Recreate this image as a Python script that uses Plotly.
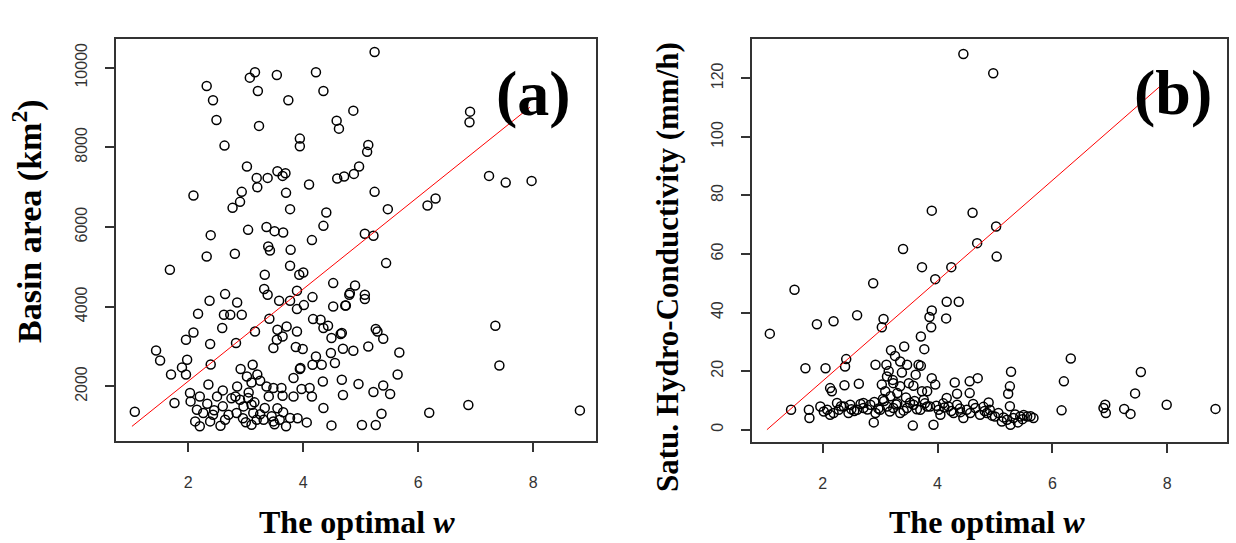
import plotly.graph_objects as go

W, H = 1236, 543

# ---------------- data ----------------
# Panel (a): optimal w vs basin area (km2)
wa = [2.32, 2.43, 2.49, 2.63, 2.09, 2.39, 3.02, 3.07, 3.16, 3.21, 3.23, 3.54, 3.74, 4.22, 4.35,
      3.94, 3.94, 4.58, 4.62, 3.19, 3.20, 3.38, 3.55, 3.64, 3.69, 4.10, 4.59, 4.71, 2.93, 2.90,
      2.77, 3.70, 3.77, 4.40, 4.35, 3.04, 3.36, 3.50, 3.65, 4.15,
      5.24, 4.87, 6.90, 6.89, 5.13, 5.11, 4.97, 4.88, 5.24, 5.47, 6.16, 6.30, 7.23, 7.52, 7.97,
      5.07, 5.22,
      5.44, 4.90, 4.81, 4.74, 5.07, 5.07, 4.67, 5.26, 5.29, 5.39, 4.69, 4.87, 5.13, 5.67, 5.64,
      4.67, 4.96, 5.39, 5.22, 5.51, 4.69, 5.36, 5.02, 5.26, 6.19, 6.87, 7.34, 7.41, 8.81,
      1.07, 1.44, 1.51, 1.68, 1.70, 1.76, 1.89, 1.96, 1.98, 1.96, 2.09, 2.17, 2.32, 2.38, 2.37,
      2.39, 2.81, 2.64, 2.62, 2.73, 2.85, 2.93, 2.59, 2.83, 3.16, 3.33, 3.39, 3.42, 3.78,
      3.77, 3.93, 4.00, 3.32, 3.38, 3.58, 3.77, 3.89, 3.89, 4.01, 4.16, 3.41, 3.55, 3.71, 3.64,
      3.54, 3.48, 3.89, 3.87, 3.99, 3.95,
      4.17, 4.30, 4.35, 4.43, 4.49, 4.65, 4.52, 4.73, 4.80, 4.52,
      4.48, 4.22, 4.32, 4.16, 4.55, 4.34, 4.15, 4.35, 4.49, 4.06,
      3.12, 2.91, 3.02, 3.10, 2.85, 3.25, 3.36, 3.48, 3.62, 3.83, 3.94, 3.64, 3.83, 3.97, 4.11,
      2.03, 2.20, 2.04, 2.33, 2.15, 2.26, 2.12, 2.38, 2.56, 2.70, 2.84, 2.90, 3.04, 3.10, 2.96,
      3.13, 3.19, 3.31, 3.33, 3.48, 3.59, 3.77, 3.10, 2.82, 2.43, 2.64,
      2.20, 2.45, 2.60, 2.75, 2.95, 3.05, 3.15, 3.25, 3.40, 3.55, 3.70, 3.50, 3.65, 3.90, 3.20,
      2.60, 2.35, 2.50, 3.00, 3.45]
area = [9541, 9183, 8689, 8044, 6790, 5797, 7518, 9750, 9885, 9416, 8539, 9818, 9183, 9885, 9416,
        8220, 8029, 8671, 8470, 7234, 7001, 7234, 7402, 7284, 7352, 7066, 7217, 7267, 6883, 6632,
        6482, 6858, 6449, 6364, 6030, 5930, 6000, 5897, 5862, 5672,
        10394, 8922, 8897, 8631, 8062, 7887, 7518, 7334, 6883, 6449, 6540, 6716, 7284, 7116, 7159,
        5830, 5780,
        5095, 4533, 4342, 4031, 4300, 4192, 3339, 3440, 3379, 3196, 2946, 2895, 3003, 2853, 2301,
        2168, 2060, 2025, 1860, 1810, 1784, 1315, 1032, 1032, 1340, 1533, 3522, 2527, 1398,
        1365, 2903, 2652, 4927, 2301, 1584, 2477, 2301, 2670, 3171, 3354, 3823, 5261, 3063, 4149,
        2552, 5329, 4317, 3798, 3798, 4107, 3798, 3465, 3088, 3379, 4801, 5511, 5411, 5428,
        5027, 4801, 4859, 4443, 4300, 4149, 4149, 4400, 3941, 4041, 4242, 3698, 3422, 3505, 3254,
        3171, 2963, 3379, 2988, 2938, 2461,
        3690, 3673, 3465, 3522, 3214, 3314, 4006, 4031, 4300, 4593,
        2838, 2752, 2544, 2544, 2587, 2125, 1749, 1458, 1022, 1097,
        2544, 2436, 2251, 2100, 2000, 2143, 2000, 1960, 1960, 2211, 2436, 1767, 1749, 1935, 1960,
        1834, 1749, 1624, 1566, 1416, 1332, 1122, 1122, 1014, 1290, 1332, 1666, 1708, 1541, 1499,
        1332, 1165, 1165, 1458, 1122, 1165, 1207, 1040, 1749, 1290, 1165,
        1000, 1400, 1500, 1700, 1200, 1850, 1600, 1300, 1750, 1450, 1000, 1050, 1350, 1200, 2300,
        1900, 2050, 1750, 1100, 1250]

# Panel (b): optimal w vs saturated hydraulic conductivity (mm/h)
wb = [4.45, 4.97, 3.90, 4.61, 5.02, 4.69,
      5.03, 4.24, 3.96, 3.73, 4.16, 4.37, 4.15, 3.90, 3.86, 3.89, 3.77, 3.71, 3.71, 6.32, 5.28,
      6.20, 7.54, 7.44, 7.99, 8.84, 6.16, 6.92, 6.89, 6.93, 7.25, 7.36, 5.26, 5.23, 5.26,
      4.70, 4.56, 4.30, 3.96, 3.90, 3.82, 4.34, 4.56, 4.89, 4.16,
      3.76, 3.87, 4.02, 4.19, 4.34, 4.51, 4.66, 4.86, 5.06, 5.21, 5.32, 5.44, 5.56, 5.67, 3.93,
      4.05, 4.45, 4.74, 4.91, 5.12, 5.27, 4.28, 4.57,
      1.08, 1.51, 1.45, 1.70, 1.76, 1.77, 1.90, 2.05, 2.19, 2.13, 2.16, 2.41, 2.39, 2.38, 2.60,
      2.63, 2.88, 3.06, 3.03, 2.92, 3.11, 3.40, 3.42, 3.19, 3.26, 3.35, 3.47, 3.67,
      3.12, 3.03, 3.23, 3.35, 3.50, 3.58, 3.73, 3.09, 3.18, 3.30, 3.57, 2.89,
      1.96, 2.08, 2.19, 2.28, 2.37, 2.45, 2.60, 2.71, 2.83, 2.92, 3.00, 3.12, 3.23, 3.35, 3.47,
      3.58, 3.70, 3.82, 2.25, 2.13, 2.48, 2.71,
      2.50, 2.90, 3.30, 3.60, 4.10, 4.40, 4.80, 5.00, 5.40, 5.50,
      2.02, 2.32, 2.55, 2.66, 2.78, 2.97, 3.07, 3.17, 3.28, 3.41, 3.52, 3.64, 3.78, 3.98, 4.12,
      4.24, 4.39, 4.62, 4.82, 4.95, 5.15, 5.35, 5.48, 5.62, 3.15, 3.22, 3.38, 3.45, 3.62, 3.05]
ksat = [128.3, 121.7, 74.8, 74.1, 69.4, 63.7,
        59.1, 55.5, 51.4, 55.5, 43.7, 43.7, 38.0, 40.7, 38.5, 35.0, 27.5, 31.8, 21.8, 24.3, 19.8,
        16.5, 19.7, 12.4, 8.5, 7.1, 6.6, 8.5, 7.4, 5.7, 7.1, 5.4, 14.8, 12.3, 8.0,
        17.6, 16.5, 16.1, 15.4, 17.6, 13.1, 12.3, 12.5, 9.3, 10.8,
        10.2, 7.9, 6.8, 7.9, 8.5, 6.8, 7.4, 5.7, 5.7, 3.4, 4.0, 4.5, 4.5, 4.0, 1.7,
        5.1, 4.0, 5.1, 6.8, 2.8, 1.7, 5.7, 5.7,
        32.8, 47.8, 6.8, 21.0, 6.8, 4.0, 36.0, 21.0, 37.0, 14.2, 13.1, 24.1, 21.6, 15.2, 39.1,
        15.7, 50.0, 37.8, 35.0, 22.2, 22.2, 61.7, 28.4, 27.1, 25.2, 23.3, 22.2, 22.2,
        18.2, 15.4, 15.9, 14.8, 15.9, 15.0, 13.1, 13.1, 11.4, 12.5, 1.4, 2.5,
        7.9, 6.8, 5.7, 6.8, 7.9, 5.7, 6.8, 7.4, 8.5, 5.7, 6.8, 7.9, 7.4, 5.7, 7.4,
        8.5, 6.8, 7.9, 9.1, 5.1, 8.5, 9.1,
        7.0, 9.5, 9.0, 9.8, 9.0, 6.0, 7.8, 4.5, 2.5, 5.0,
        6.2, 8.0, 6.4, 8.8, 6.9, 7.2, 9.8, 6.2, 8.6, 6.5, 9.2, 7.0, 9.0, 8.2, 7.6,
        6.4, 7.2, 8.8, 6.4, 4.8, 4.2, 5.2, 3.6, 4.6, 20.0, 17.0, 19.5, 11.0, 18.8, 10.5]

# fitted (red) lines
fit_a_w = [1.02, 7.94]
fit_a_y = [997, 9007]
fit_b_w = [1.03, 7.86]
fit_b_y = [0, 117]

x_ticks = [2, 4, 6, 8]
area_ticks = [2000, 4000, 6000, 8000, 10000]
ksat_ticks = [0, 20, 40, 60, 80, 100, 120]

# ---------------- figure ----------------
marker_style = dict(symbol="circle-open", size=9, color="black", line=dict(width=1.5, color="black"))

fig = go.Figure()
fig.add_trace(go.Scatter(x=wa, y=area, mode="markers", marker=marker_style,
                         xaxis="x", yaxis="y", showlegend=False))
fig.add_trace(go.Scatter(x=fit_a_w, y=fit_a_y, mode="lines", line=dict(color="red", width=1),
                         xaxis="x", yaxis="y", showlegend=False))
fig.add_trace(go.Scatter(x=wb, y=ksat, mode="markers", marker=marker_style,
                         xaxis="x2", yaxis="y2", showlegend=False))
fig.add_trace(go.Scatter(x=fit_b_w, y=fit_b_y, mode="lines", line=dict(color="red", width=1),
                         xaxis="x2", yaxis="y2", showlegend=False))

tickfont = dict(family="Liberation Sans, Arial", size=16, color="#333")
common = dict(showline=True, linecolor="#333", linewidth=1.5, mirror=True,
              ticks="outside", ticklen=9, tickwidth=1.5, tickcolor="#333",
              showgrid=False, zeroline=False, tickfont=tickfont)

def dx(a, b):
    return [a / W, b / W]

def dy(top, bottom):
    return [1 - bottom / H, 1 - top / H]

fig.update_layout(
    width=W, height=H,
    margin=dict(l=0, r=0, t=0, b=0),
    paper_bgcolor="white", plot_bgcolor="white",
    xaxis=dict(domain=dx(116, 596), range=[0.743, 9.09], tickvals=x_ticks,
               anchor="y", ticklabelstandoff=17, **common),
    yaxis=dict(domain=dy(39, 441), range=[630, 10720], tickvals=area_ticks,
               ticktext=[str(v) for v in area_ticks],
               tickangle=-90, anchor="x", ticklabelstandoff=12, **common),
    xaxis2=dict(domain=dx(752, 1227), range=[0.77, 9.04], tickvals=x_ticks,
                anchor="y2", ticklabelstandoff=17, **common),
    yaxis2=dict(domain=dy(39, 442), range=[-4.2, 133.4], tickvals=ksat_ticks,
                ticktext=[str(v) for v in ksat_ticks],
                tickangle=-90, anchor="x2", ticklabelstandoff=12, **common),
)

def tfont(size):
    return dict(family="Liberation Serif, Times New Roman", size=size, color="black")

ann = [
    dict(text="<b>Basin area (km<sup>2</sup>)</b>", x=28 / W, y=1 - 221 / H, textangle=-90, font=tfont(34)),
    dict(text="<b>The optimal <i>w</i></b>", x=357 / W, y=1 - 522 / H, textangle=0, font=tfont(32)),
    dict(text="<b>Satu. Hydro-Conductivity (mm/h)</b>", x=667 / W, y=1 - 267 / H, textangle=-90, font=tfont(31)),
    dict(text="<b>The optimal <i>w</i></b>", x=987 / W, y=1 - 522 / H, textangle=0, font=tfont(32)),
]
for a in ann:
    fig.add_annotation(xref="paper", yref="paper", xanchor="center", yanchor="middle",
                       showarrow=False, **a)

panel_font = tfont(64)
fig.add_annotation(text="<b>(a)</b>", xref="paper", yref="paper", x=533 / W, y=1 - 93 / H,
                   xanchor="center", yanchor="middle", showarrow=False, font=panel_font)
fig.add_annotation(text="<b>(b)</b>", xref="paper", yref="paper", x=1173 / W, y=1 - 92 / H,
                   xanchor="center", yanchor="middle", showarrow=False, font=panel_font)

fig.write_html("out.html")
